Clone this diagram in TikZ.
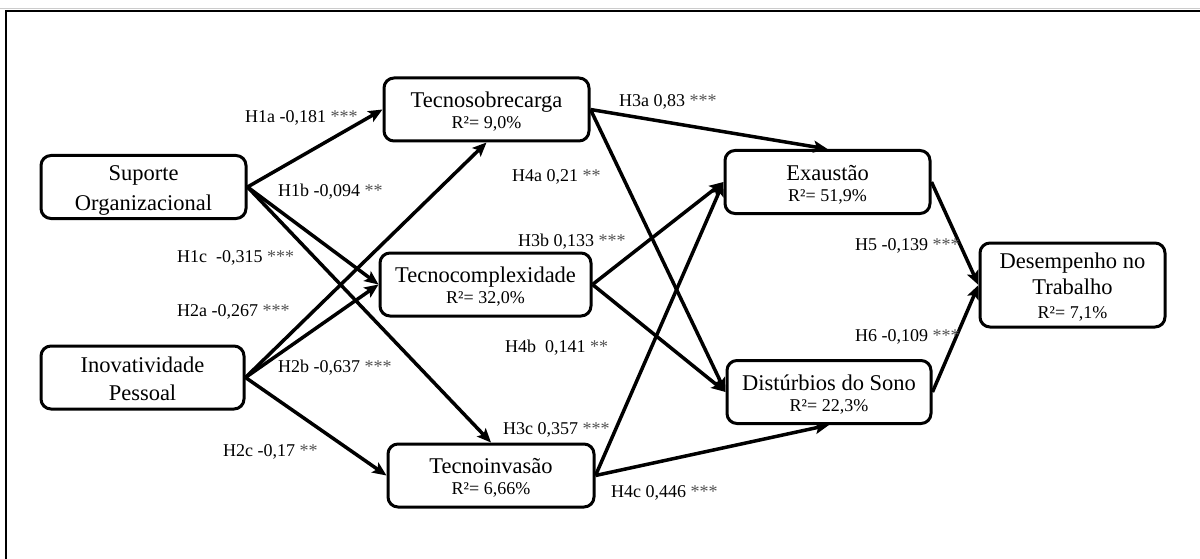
\documentclass[tikz,border=0pt]{standalone}
\usepackage{fontspec}
\setmainfont{Liberation Serif}
\usetikzlibrary{arrows.meta}
% R-squared line set in the smaller label size
\newcommand\rsq[1]{{\fontsize{18}{20}\selectfont R²= #1}}
% significance stars in dark grey
\newcommand\sig[1]{\textcolor{black!68}{#1}}
% strut that pushes the first line of a box a little lower
\newcommand\topstrut[1]{\rule{0pt}{#1}}

\begin{document}
\begin{tikzpicture}[x=1pt,y=-1pt,
  box/.style={draw, line width=3pt, rounded corners=10pt,
    minimum width=#1, minimum height=63pt, align=center, inner sep=0pt,
    font=\fontsize{22.5}{27}\selectfont},
  box/.default=204pt,
  conn/.style={line width=3.5pt, -{Stealth[length=14pt,width=12pt,inset=3pt]}},
  lab/.style={anchor=west, inner sep=0pt, font=\fontsize{18}{20}\selectfont}]

\useasboundingbox (0,0) rectangle (1200,559);
\fill[white] (0,0) rectangle (1200,559);

% outer frame (top and left edges)
\draw[gray!40, line width=1pt] (0,9) -- (1200,9);
\draw[line width=2pt] (6,559) -- (6,11) -- (1200,11);

% constructs
\node[box=205pt] (sup) at (143.5,187) {\topstrut{21pt}Suporte\\[3pt]Organizacional};
\node[box=203pt] (ino) at (142.5,377.5) {\topstrut{18pt}Inovatividade\\[1pt]Pessoal};
\node[box=205pt] (sob) at (486.5,109.5) {\topstrut{20pt}Tecnosobrecarga\\[-6pt]\rsq{9,0\%}};
\node[box=211pt] (cpx) at (485.5,284.5) {\topstrut{20pt}Tecnocomplexidade\\[-6pt]\rsq{32,0\%}};
\node[box=206pt] (inv) at (491,475.5) {\topstrut{20pt}Tecnoinvasão\\[-6pt]\rsq{6,66\%}};
\node[box=205pt] (exa) at (827.5,182) {\topstrut{20pt}Exaustão\\[-6pt]\rsq{51,9\%}};
\node[box=204pt] (dst) at (829,392) {\topstrut{20pt}Distúrbios do Sono\\[-6pt]\rsq{22,3\%}};
\node[box=185pt, minimum height=84pt] (des) at (1072.5,285)
  {\topstrut{19pt}Desempenho no\\[-1pt]Trabalho\\[-3pt]\rsq{7,1\%}};

% structural paths
\draw[conn] (sup.east) -- (sob.west);
\draw[conn] (sup.east) -- (cpx.west);
\draw[conn] (sup.east) -- (inv.north);
\draw[conn] (ino.east) -- (sob.south);
\draw[conn] (ino.east) -- (cpx.west);
\draw[conn] (ino.east) -- (inv.west);
\draw[conn] (sob.east) -- (exa.north);
\draw[conn] (sob.east) -- (dst.west);
\draw[conn] (cpx.east) -- (exa.west);
\draw[conn] (cpx.east) -- (dst.west);
\draw[conn] (inv.east) -- (exa.west);
\draw[conn] (inv.east) -- (dst.south);
\draw[conn] (exa.east) -- (des.west);
\draw[conn] (dst.east) -- (des.west);

% path coefficients
\node[lab] (h1a) at (245,118) {H1a -0,181 \sig{***}};
\node[lab] (h1b) at (278,192) {H1b -0,094 \sig{**}};
\node[lab] (h1c) at (177,258) {H1c~ -0,315 \sig{***}};
\node[lab] (h2a) at (177,312) {H2a -0,267 \sig{***}};
\node[lab] (h2b) at (278,368) {H2b -0,637 \sig{***}};
\node[lab] (h2c) at (223,452) {H2c -0,17 \sig{**}};
\node[lab] (h3a) at (619,102) {H3a 0,83 \sig{***}};
\node[lab] (h4a) at (512,177) {H4a 0,21 \sig{**}};
\node[lab] (h3b) at (518,242) {H3b 0,133 \sig{***}};
\node[lab] (h4b) at (505,348) {H4b~ 0,141 \sig{**}};
\node[lab] (h3c) at (503,430) {H3c 0,357 \sig{***}};
\node[lab] (h4c) at (611,493) {H4c 0,446 \sig{***}};
\node[lab] (h5) at (855,246) {H5 -0,139 \sig{***}};
\node[lab] (h6) at (855,337) {H6 -0,109 \sig{***}};
\end{tikzpicture}
\end{document}
